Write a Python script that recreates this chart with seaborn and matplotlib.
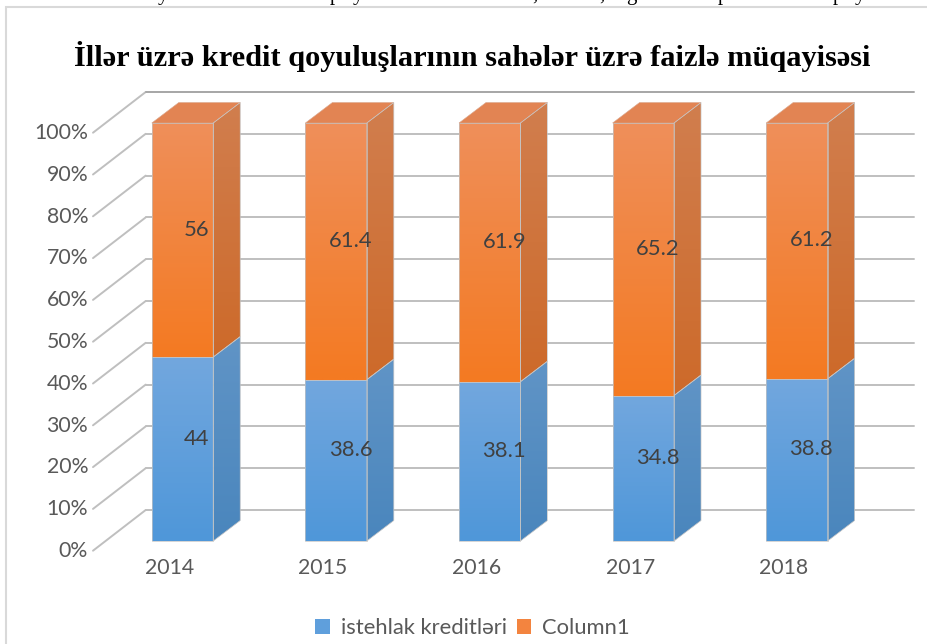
import numpy as np
import pandas as pd
import seaborn as sns
import matplotlib.pyplot as plt
from matplotlib.patches import Polygon, Rectangle
from matplotlib.transforms import ScaledTranslation

years = ['2014', '2015', '2016', '2017', '2018']
istehlak = [44, 38.6, 38.1, 34.8, 38.8]
column1 = [56, 61.4, 61.9, 65.2, 61.2]
y_ticks = [0, 10, 20, 30, 40, 50, 60, 70, 80, 90, 100]
title = 'İllər üzrə kredit qoyuluşlarının sahələr üzrə faizlə müqayisəsi'
series_names = ['istehlak kreditləri', 'Column1']

sns.set_style('white')
plt.rcParams['font.family'] = ['Lato', 'DejaVu Sans']

fig = plt.figure(figsize=(9.27, 6.44), dpi=100)
ax = fig.add_axes([105.7 / 927, (644 - 541) / 644, 768 / 927, 418 / 644])

df = pd.DataFrame({'year': years, 'a': istehlak, 'b': column1})
sns.barplot(data=df, x='year', y='a', color='#5f9fdc', saturation=1, width=0.4,
            linewidth=0, label=series_names[0], ax=ax, zorder=3)
sns.barplot(data=df, x='year', y='b', bottom=df['a'], color='#f3843f', saturation=1, width=0.4,
            linewidth=0, label=series_names[1], ax=ax, zorder=3)
bars = list(ax.patches)

# pixel -> data units, the fake 3d depth is done with these
px_x = 1 / 153.6
px_y = 100 / 418


def shift(x, y, right, up):
    return x + right * px_x, y + up * px_y


def gradient(poly_pts, top, bottom, zorder=3.2):
    pts = np.array(poly_pts)
    c1 = np.array(plt.matplotlib.colors.to_rgb(top))
    c2 = np.array(plt.matplotlib.colors.to_rgb(bottom))
    t = np.linspace(0, 1, 64)[:, None]
    img = (c2 * (1 - t) + c1 * t)[:, None, :]
    poly = Polygon(pts, closed=True, facecolor='none', edgecolor='#c4c4c4', linewidth=0.5,
                   zorder=zorder + 0.1, clip_on=False)
    ax.add_patch(poly)
    im = ax.imshow(img, origin='lower', aspect='auto', zorder=zorder, interpolation='bilinear',
                   extent=[pts[:, 0].min(), pts[:, 0].max(), pts[:, 1].min(), pts[:, 1].max()])
    im.set_clip_path(poly)
    im.set_clip_box(fig.bbox)


# back wall grid
for t in y_ticks:
    x0, y0 = shift(-0.5, t, -12.7, -9.7)
    x1, y1 = shift(-0.5, t, 40, 31)
    x2, y2 = shift(4.5, t, 40, 31)
    col = '#a6a6a6' if t == 100 else '#bfbfbf'
    ax.plot([x0, x1], [y0, y1], color='#bfbfbf', lw=1.4, zorder=1, clip_on=False)
    ax.plot([x1, x2], [y1, y2], color=col, lw=1.4, zorder=1, clip_on=False)

styles = {0: ('#72a7de', '#4f97d9', '#6094c6', '#4a86bd'),
          1: ('#ef8f5a', '#f47a22', '#d17e4e', '#cd6a2a')}
n = len(years)
for i, bar in enumerate(bars):
    s = i // n
    x, y, w, h = bar.get_x(), bar.get_y(), bar.get_width(), bar.get_height()
    front_top, front_bot, side_top, side_bot = styles[s]
    gradient([(x, y), (x + w, y), (x + w, y + h), (x, y + h)], front_top, front_bot)
    # right side
    r0 = shift(x + w, y, 27, 20.5)
    r1 = shift(x + w, y + h, 27, 20.5)
    gradient([(x + w, y), r0, r1, (x + w, y + h)], side_top, side_bot)
    # top face, only the upper one can be seen
    if s == 1:
        l1 = shift(x, y + h, 27, 20.5)
        poly = Polygon([(x, y + h), (x + w, y + h), r1, l1], closed=True, facecolor='#e28453',
                       edgecolor='#d9a88f', linewidth=0.4, zorder=3.3, clip_on=False)
        ax.add_patch(poly)

leg = ax.legend(loc='center', bbox_to_anchor=(472.5 / 927, 1 - 628 / 644), bbox_transform=fig.transFigure, ncol=2,
                frameon=False, fontsize=15.8, labelcolor='#595959', handlelength=0.68, handleheight=0.68,
                handletextpad=0.5, columnspacing=0.45, borderpad=0)

for bar in bars:
    bar.set_visible(False)

ax.set_xlim(-0.5, 4.5)
ax.set_ylim(0, 100)
for sp in ax.spines.values():
    sp.set_visible(False)
ax.patch.set_alpha(0)
ax.set_xlabel('')
ax.set_ylabel('')

ax.set_yticks(y_ticks)
ax.set_yticklabels([str(t) + '%' for t in y_ticks])
ax.tick_params(axis='both', length=0, pad=0, labelsize=15.3, labelcolor='#595959')
for lab in ax.get_yticklabels():
    lab.set_transform(lab.get_transform() + ScaledTranslation(-0.177, -0.08, fig.dpi_scale_trans))
for lab in ax.get_xticklabels():
    lab.set_transform(lab.get_transform() + ScaledTranslation(-0.13, -0.175, fig.dpi_scale_trans))

# value labels sit a bit to the right, on the middle of the bar depth
lab_off = ax.transData + ScaledTranslation(0.145, 0.105, fig.dpi_scale_trans)
for i in range(n):
    ax.text(i, istehlak[i] / 2, str(istehlak[i]), transform=lab_off, ha='center', va='center',
            fontsize=15.8, color='#404040', zorder=6)
    ax.text(i, istehlak[i] + column1[i] / 2, str(column1[i]), transform=lab_off, ha='center', va='center',
            fontsize=15.8, color='#404040', zorder=6)

fig.text(472 / 927, 1 - 57 / 644, title, ha='center', va='center', family='Liberation Serif',
         fontweight='bold', fontsize=21.9, color='black')

# chart frame and the cut off line of body text above it
fig.add_artist(Rectangle((6 / 927, -0.01), 1.1, 1.01 - 7 / 644, transform=fig.transFigure, facecolor='none',
                         edgecolor='#d9d9d9', linewidth=1.5))
for px, ch in [(163, 'y'), (335, 'p'), (358, 'y'), (535, ','), (602, ','), (631, 'g'), (723, 'p'), (838, 'p'), (860, 'y')]:
    fig.text(px / 927, 1.0, ch, ha='center', va='baseline', family='Liberation Serif', fontsize=15, color='black')

fig.savefig('out.png', dpi=100)
